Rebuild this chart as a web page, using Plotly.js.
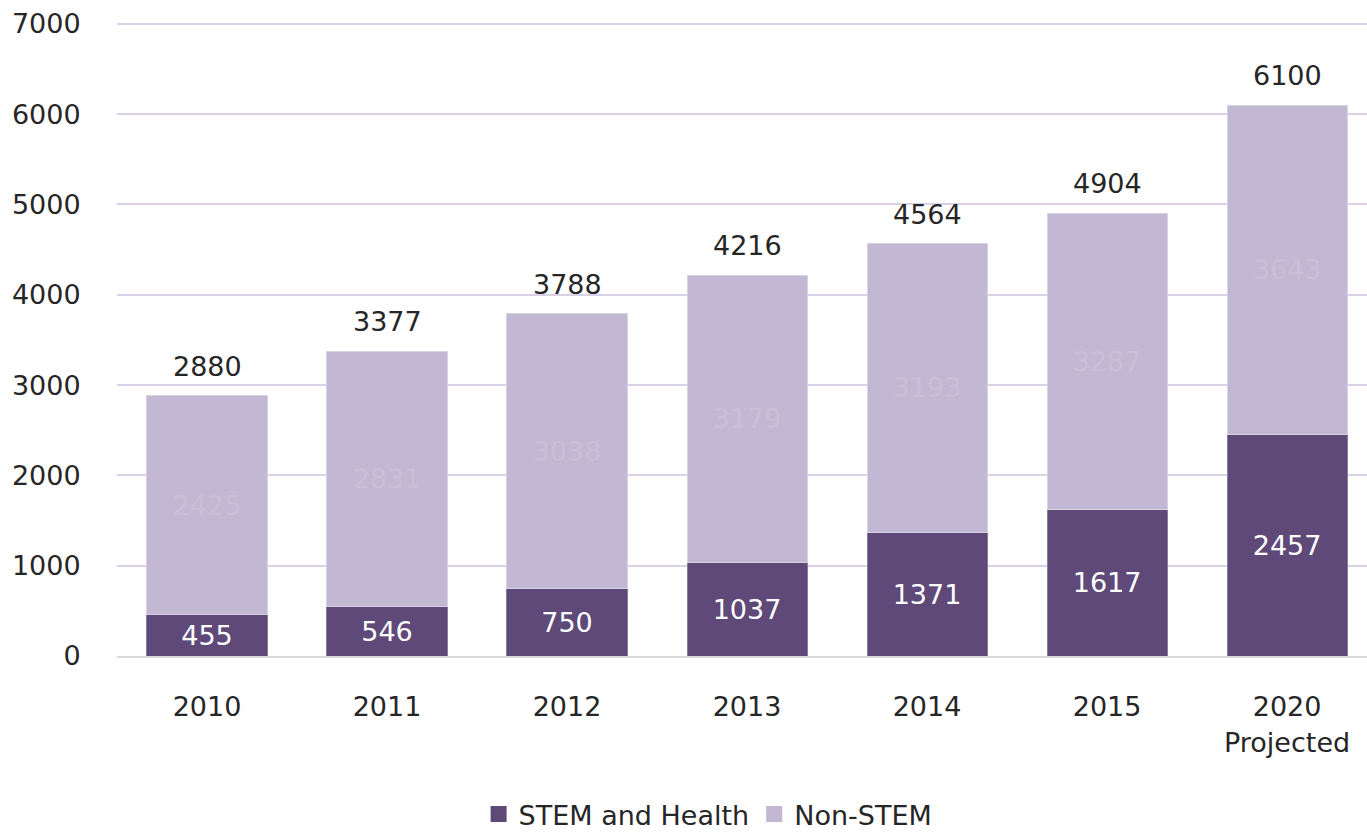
<!DOCTYPE html>
<html>
<head>
<meta charset="utf-8">
<script src="https://cdn.plot.ly/plotly-3.0.1.min.js"></script>
<style>html,body{margin:0;padding:0;background:#fff;}#chart{width:1367px;height:839px;}</style>
</head>
<body>
<div id="chart"></div>
<script>
var categories = ["2010", "2011", "2012", "2013", "2014", "2015", "2020<br>Projected"];
var stemValues = [455, 546, 750, 1037, 1371, 1617, 2457];
var nonStemValues = [2425, 2831, 3038, 3179, 3193, 3287, 3643];
var totals = [2880, 3377, 3788, 4216, 4564, 4904, 6100];
var yTicks = [0, 1000, 2000, 3000, 4000, 5000, 6000, 7000];
var seriesNames = ["STEM and Health", "Non-STEM"];
var seriesColors = ["#5e4979", "#c3b8d3"];

var FONT = "DejaVu Sans, Open Sans, sans-serif";
var FS = 27;

var traces = [
  {
    type: "bar", name: seriesNames[0], x: categories, y: stemValues,
    marker: {color: seriesColors[0], line: {color: "#8a7aa0", width: 1}},
    text: stemValues.map(String), textposition: "inside", insidetextanchor: "middle",
    constraintext: "none", textangle: 0,
    textfont: {family: FONT, size: FS, color: "#ffffff"},
    hoverinfo: "skip", showlegend: false
  },
  {
    type: "bar", name: seriesNames[1], x: categories, y: nonStemValues,
    marker: {color: seriesColors[1], line: {color: "#d9d1e4", width: 1}},
    text: nonStemValues.map(String), textposition: "inside", insidetextanchor: "middle",
    constraintext: "none", textangle: 0,
    textfont: {family: FONT, size: FS, color: "#c9bfd8"},
    hoverinfo: "skip", showlegend: false
  }
];
// legend-only entries with large square swatches
seriesNames.forEach(function (n, i) {
  traces.push({
    type: "scatter", mode: "markers", name: n, x: [null], y: [null],
    marker: {symbol: "square", size: 20, color: seriesColors[i]},
    hoverinfo: "skip", showlegend: true
  });
});

var annotations = totals.map(function (t, i) {
  return {
    x: i, y: t, xref: "x", yref: "y",
    text: String(t), showarrow: false, yanchor: "bottom", yshift: 12,
    font: {family: FONT, size: FS, color: "#262626"}
  };
});

var layout = {
  width: 1367, height: 839,
  margin: {l: 117, r: 0, t: 22, b: 183},
  paper_bgcolor: "#ffffff", plot_bgcolor: "#ffffff",
  barmode: "stack", bargap: 0.333,
  font: {family: FONT, size: FS, color: "#262626"},
  xaxis: {
    type: "category", range: [-0.5, 6.444], automargin: false,
    showgrid: false, zeroline: false,
    showline: true, linecolor: "#d9d9d9", linewidth: 2,
    ticks: "outside", ticklen: 26, tickcolor: "rgba(0,0,0,0)",
    tickfont: {family: FONT, size: FS, color: "#262626"}
  },
  yaxis: {
    range: [0, 7020], tickvals: yTicks, ticktext: yTicks.map(String), automargin: false,
    showgrid: true, gridcolor: "#d9d2e6", gridwidth: 2,
    zeroline: false, showline: false,
    ticks: "outside", ticklen: 30, tickcolor: "rgba(0,0,0,0)",
    tickfont: {family: FONT, size: FS, color: "#262626"}
  },
  annotations: annotations,
  legend: {
    orientation: "h", xref: "container", yref: "container",
    x: 0.518, xanchor: "center", y: 0, yanchor: "bottom",
    font: {family: FONT, size: FS, color: "#262626"},
    traceorder: "normal", itemwidth: 30
  },
  showlegend: true
};

Plotly.newPlot("chart", traces, layout, {displayModeBar: false, staticPlot: true});
</script>
</body>
</html>
